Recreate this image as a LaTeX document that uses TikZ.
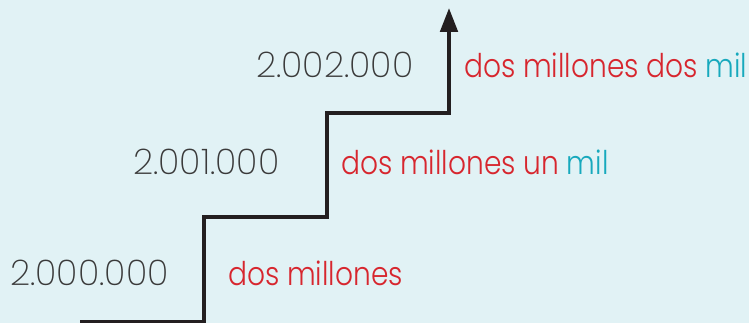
\documentclass[tikz,border=0pt]{standalone}
\usepackage{fontspec}
\setmainfont{Poppins Light}
\newfontfamily\wordfont[FakeStretch=0.86]{Poppins Light}
\newfontfamily\numfont{Poppins ExtraLight}
\usetikzlibrary{arrows.meta}
\definecolor{bg}{HTML}{E1F2F5}
\definecolor{redt}{HTML}{D7262E}
\definecolor{cyant}{HTML}{17A9BD}
\definecolor{grayt}{HTML}{3A3A3A}
\definecolor{linec}{HTML}{231F20}
\begin{document}
\begin{tikzpicture}[x=0.75pt,y=-0.75pt,
  num/.style={anchor=base west,inner sep=0pt,text=grayt,font=\numfont\fontsize{26.5}{30}\selectfont},
  wrd/.style={anchor=base west,inner sep=0pt,text=redt,font=\wordfont\fontsize{24.5}{28}\selectfont},
  stair/.style={line width=3pt,draw=linec,-{Triangle[length=18pt,width=13pt]}}]
\fill[bg] (0,0) rectangle (749,323);
\useasboundingbox (0,0) rectangle (749,323);
\coordinate (s0) at (80,322);
\coordinate (s1) at (204,322);
\coordinate (s2) at (204,217);
\coordinate (s3) at (327,217);
\coordinate (s4) at (327,113);
\coordinate (s5) at (449,113);
\coordinate (s6) at (449,8);
\draw[stair] (s0) -- (s1) -- (s2) -- (s3) -- (s4) -- (s5) -- (s6);
\node[num] (n0) at (10,286) {2.000.000};
\node[wrd] (w0) at (228,286) {dos millones};
\node[num] (n1) at (133,175) {2.001.000};
\node[wrd] (w1) at (341,175) {dos millones un \textcolor{cyant}{mil}};
\node[num] (n2) at (256,78) {2.002.000};
\node[wrd] (w2) at (464,78) {dos millones dos \textcolor{cyant}{mil}};
\end{tikzpicture}
\end{document}
